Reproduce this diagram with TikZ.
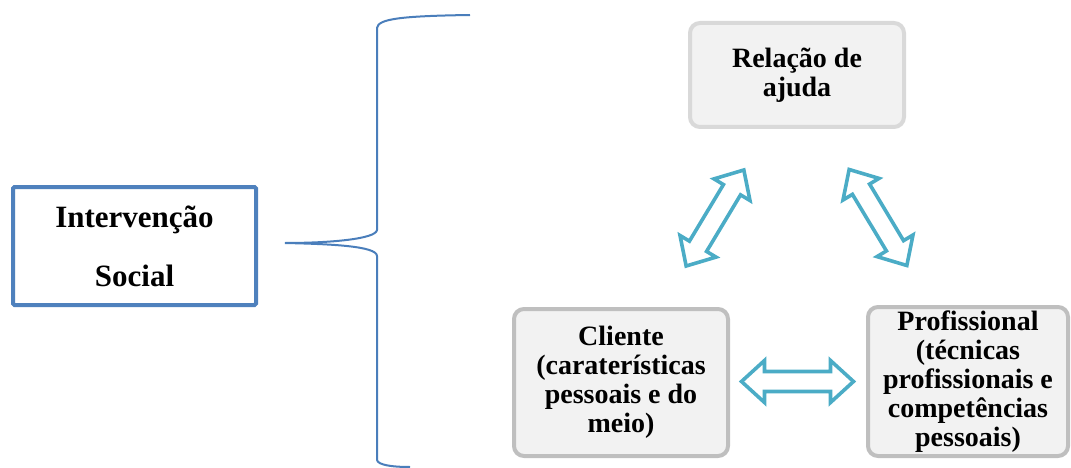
\documentclass[tikz,border=0pt]{standalone}
\usepackage{fontspec}
\setmainfont{Liberation Serif}
\definecolor{bracecol}{HTML}{4A7EBB}
\definecolor{boxblue}{HTML}{4F81BD}
\definecolor{graybord}{HTML}{BFBFBF}
\definecolor{lightbord}{HTML}{D9D9D9}
\definecolor{graybg}{HTML}{F2F2F2}
\definecolor{arrcol}{HTML}{4BACC6}
\tikzset{
  mainbox/.style={draw=boxblue, line width=4pt, fill=white, rounded corners=1.5pt,
    align=center, font=\bfseries\fontsize{31}{59}\selectfont, inner sep=0pt},
  graybox/.style={draw=graybord, line width=4pt, fill=graybg, rounded corners=10pt,
    align=center, font=\bfseries\fontsize{28}{29}\selectfont, inner sep=0pt},
  bracestyle/.style={draw=bracecol, line width=2pt},
  arrowshape/.style={draw=arrcol, line width=3.6pt, fill=white, line join=miter},
  dblarrow/.pic={
    \path[arrowshape] (-56,0) -- (-33,21) -- (-33,10) -- (33,10) -- (33,21) -- (56,0)
      -- (33,-21) -- (33,-10) -- (-33,-10) -- (-33,-21) -- cycle;
  }
}
\begin{document}
\begin{tikzpicture}[x=1pt,y=-1pt]
\useasboundingbox (0,0) rectangle (1071,468);

% boxes
\node[mainbox, minimum width=243pt, minimum height=118pt] (interv) at (134.5,246)
  {Intervenção\\Social};
\node[graybox, draw=lightbord, minimum width=214pt, minimum height=104pt] (relacao) at (797,75)
  {Relação de\\ajuda};
\node[graybox, minimum width=214pt, minimum height=147pt] (cliente) at (621,382.5)
  {Cliente\\(caraterísticas\\pessoais e do\\meio)};
\node[graybox, minimum width=200pt, minimum height=149pt] (prof) at (968,381.5)
  {Profissional\\(técnicas\\profissionais e\\competências\\pessoais)};

% brace
\coordinate (btop) at (470,15);
\coordinate (btip) at (285,243);
\coordinate (bbot) at (410,467);
\draw[bracestyle] (btop) .. controls (400,16) and (378,19) .. (377,28)
  -- (377,230) .. controls (376,239) and (330,243) .. (btip)
  .. controls (330,244) and (377,246) .. (377,256)
  -- (377,460) .. controls (378,465) and (392,467) .. (bbot);

% double arrows
\pic[rotate=59] (arrleft) at (715,218) {dblarrow};
\pic[rotate=-59] (arrright) at (878,217.5) {dblarrow};
\pic (arrbottom) at (797.5,381.5) {dblarrow};
\end{tikzpicture}
\end{document}
